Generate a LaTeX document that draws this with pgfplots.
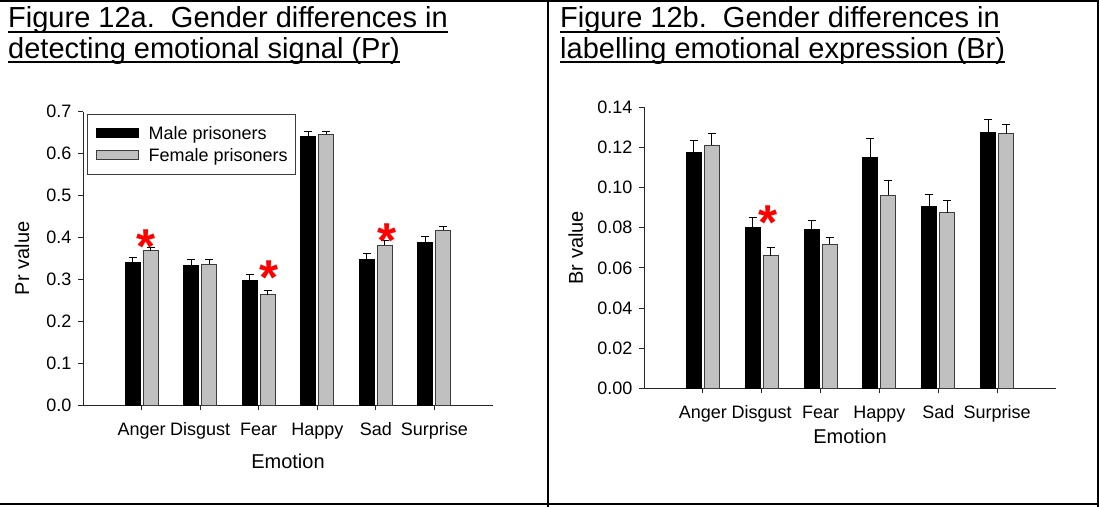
\documentclass[border=0pt]{standalone}
\usepackage{pgfplots}
\usepackage{pgfplotstable}
\pgfplotsset{compat=1.18}
\usepackage{fontspec}
\setmainfont{Liberation Sans}
\definecolor{barg}{RGB}{192,192,192}
\definecolor{edg}{RGB}{60,60,60}

\pgfplotstableread{
x m me f fe
0 0.341 0.011 0.368 0.008
1 0.333 0.015 0.336 0.011
2 0.298 0.013 0.263 0.010
3 0.642 0.011 0.646 0.006
4 0.348 0.013 0.381 0.011
5 0.389 0.013 0.417 0.010
}\prdata
\pgfplotstableread{
x m me f fe
0 0.1176 0.0061 0.1211 0.0056
1 0.0799 0.0050 0.0661 0.0040
2 0.0789 0.0048 0.0717 0.0035
3 0.1152 0.0094 0.0963 0.0073
4 0.0905 0.0062 0.0875 0.0062
5 0.1276 0.0063 0.1269 0.0045
}\brdata

\newcommand{\tfont}{\fontsize{29}{31}\selectfont}
\newcommand{\lfont}{\fontsize{18}{20}\selectfont}
\newcommand{\afont}{\fontsize{20}{22}\selectfont}

\tikzset{redstar/.style={text=red, font=\fontsize{49}{49}\selectfont\bfseries, anchor=base, yshift=-27.8pt, inner sep=0pt}}

\pgfplotsset{
  panel/.style={
    scale only axis, ybar=3pt, bar width=15pt,
    xmin=-1, xmax=6, ymin=0, clip=false,
    axis x line*=bottom, axis y line*=left,
    axis line style={line width=1pt, black!85},
    xtick={0,...,5},
    xticklabels={Anger,Disgust,Fear,Happy,Sad,Surprise},
    tick align=outside, major tick length=5pt,
    tick style={line width=1pt, black!85},
    tick label style={font=\lfont},
    xticklabel style={anchor=base, yshift=-25pt},
    yticklabel style={xshift=-3pt},
    /pgf/number format/assume math mode=true,
    /pgf/number format/fixed, /pgf/number format/fixed zerofill,
    label style={font=\afont},
    xlabel=Emotion,
    legend image code/.code={\path (0pt,0pt); \draw[##1] (5pt,-4.5pt) rectangle (47pt,4.5pt);},
  },
  mb/.style={fill=black, draw=black, line width=1pt},
  fb/.style={fill=barg, draw=edg, line width=1pt},
  eb/.style={error bars/.cd, y dir=plus, y explicit,
    error bar style={line width=1pt, black},
    error mark options={rotate=90, mark size=4pt, line width=1pt, black}},
}

\begin{document}
\begin{tikzpicture}
\useasboundingbox (0pt,0pt) rectangle (1099pt,507pt);
\fill[white] (0pt,0pt) rectangle (1099pt,507pt);
% frame
\draw[line width=1.8pt] (0pt,506.1pt) -- (1099pt,506.1pt);
\draw[line width=2pt] (0pt,3pt) -- (1099pt,3pt);
\draw[line width=2pt] (1097.7pt,0pt) -- (1097.7pt,507pt);
\draw[line width=2pt] (547.7pt,0pt) -- (547.7pt,507pt);

% titles
\node[anchor=base west, inner sep=0pt, font=\tfont] (a1) at (8pt,479pt) {Figure 12a.\ \ Gender differences in};
\draw[line width=2pt] ([yshift=-4pt]a1.base west) -- ([yshift=-4pt]a1.base east);
\node[anchor=base west, inner sep=0pt, font=\tfont] (a2) at (8pt,448.5pt) {detecting emotional signal (Pr)};
\draw[line width=2pt] ([yshift=-4pt]a2.base west) -- ([yshift=-4pt]a2.base east);
\node[anchor=base west, inner sep=0pt, font=\tfont] (b1) at (560pt,479pt) {Figure 12b.\ \ Gender differences in};
\draw[line width=2pt] ([yshift=-4pt]b1.base west) -- ([yshift=-4pt]b1.base east);
\node[anchor=base west, inner sep=0pt, font=\tfont] (b2) at (560pt,448.5pt) {labelling emotional expression (Br)};
\draw[line width=2pt] ([yshift=-4pt]b2.base west) -- ([yshift=-4pt]b2.base east);

\begin{axis}[panel,
  at={(83pt,102pt)}, anchor=south west, width=410pt, height=293.3pt,
  ymax=0.7, ytick={0,0.1,0.2,0.3,0.4,0.5,0.6,0.7},
  /pgf/number format/precision=1,
  ylabel={Pr value},
  ylabel style={at={(axis description cs:-0.149,0.5)}, anchor=center},
  xlabel style={at={(axis description cs:0.5,-0.191)}, anchor=center},
  legend cell align=left,
  legend style={at={(axis description cs:0.0098,0.992)}, anchor=north west,
    draw=edg, line width=1pt, inner xsep=3pt, inner ysep=9.5pt,
    row sep=3.4pt, column sep=5pt, font=\lfont,
    nodes={inner xsep=5pt, inner ysep=2pt}},
]
\addplot[mb, eb] table[x=x, y=m, y error=me] {\prdata};
\addplot[fb, eb] table[x=x, y=f, y error=fe] {\prdata};
\legend{Male prisoners, Female prisoners}
\node[redstar] at (axis cs:0.077,0.405) {*};
\node[redstar] at (axis cs:2.172,0.330) {*};
\node[redstar] at (axis cs:4.193,0.418) {*};
\end{axis}

\begin{axis}[panel,
  at={(644pt,118.7pt)}, anchor=south west, width=412pt, height=281pt,
  ymax=0.14, ytick={0,0.02,0.04,0.06,0.08,0.10,0.12,0.14},
  /pgf/number format/precision=2,
  ylabel={Br value},
  ylabel style={at={(axis description cs:-0.166,0.5)}, anchor=center},
  xlabel style={at={(axis description cs:0.5,-0.1694)}, anchor=center},
]
\addplot[mb, eb] table[x=x, y=m, y error=me] {\brdata};
\addplot[fb, eb] table[x=x, y=f, y error=fe] {\brdata};
\node[redstar] at (axis cs:1.107,0.0880) {*};
\end{axis}
\end{tikzpicture}
\end{document}
